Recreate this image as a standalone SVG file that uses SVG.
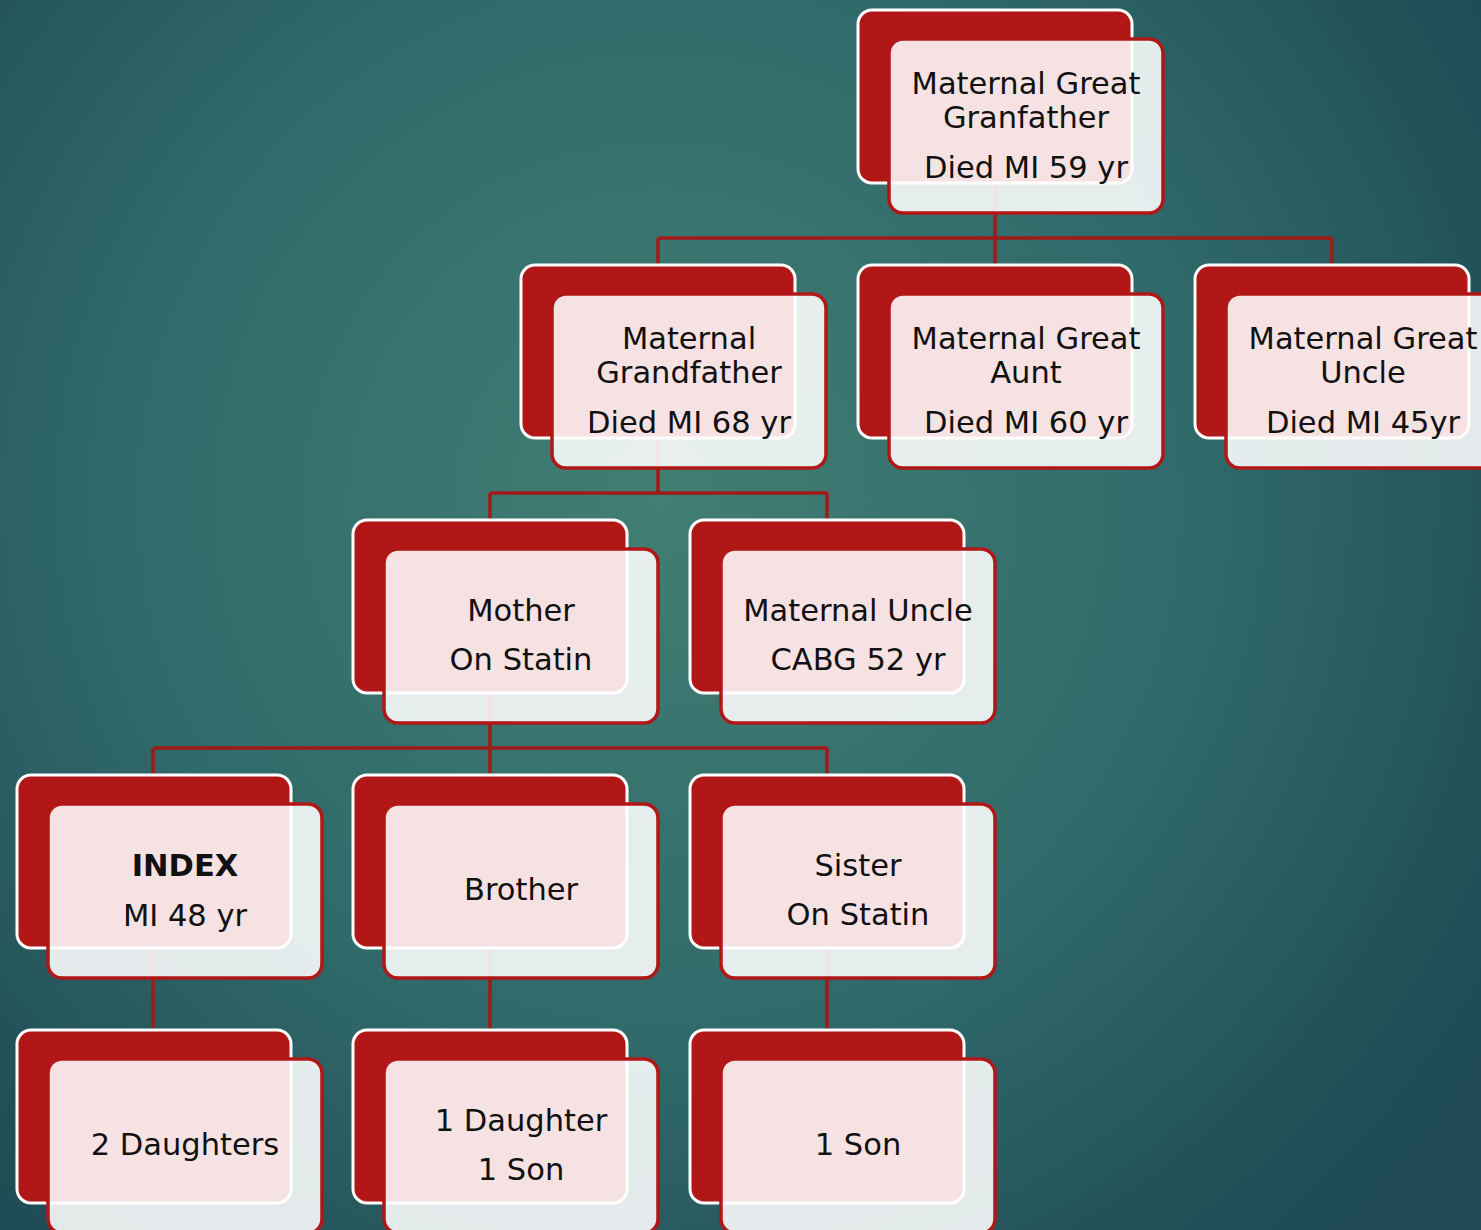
<svg xmlns="http://www.w3.org/2000/svg" width="1481" height="1230" viewBox="0 0 1481 1230">
<defs>
<radialGradient id="bg" cx="660" cy="500" r="1000" gradientUnits="userSpaceOnUse">
<stop offset="0" stop-color="#417E73"/>
<stop offset="0.55" stop-color="#30696A"/>
<stop offset="0.9" stop-color="#214F57"/>
<stop offset="1" stop-color="#1F4A55"/>
</radialGradient>
<style>
.back{fill:#B01716;stroke:#FFFFFF;stroke-width:3}
.front{fill:#FFFFFF;fill-opacity:0.88;stroke:#B01716;stroke-width:3.5}
.t{font-family:"DejaVu Sans","Liberation Sans",sans-serif;font-size:30.5px;fill:#111111;text-anchor:middle}
.b{font-weight:bold}
.conn{fill:none;stroke:#A11A1A;stroke-width:3.5}
</style>
</defs>
<rect x="0" y="0" width="1481" height="1230" fill="url(#bg)"/>
<g id="connectors" class="conn">
<path d="M995 183V238M658 238H1332M658 238V265M995 238V265M1332 238V265"/>
<path d="M658 438V493M490 493H827M490 493V520M827 493V520"/>
<path d="M490 693V748M153 748H827M153 748V775M490 748V775M827 748V775"/>
<path d="M153 948V1030M490 948V1030M827 948V1030"/>
</g>
<g id="n-mgg" transform="translate(858,10)">
<rect class="back" x="0" y="0" width="274" height="173" rx="14"/>
<rect class="front" x="31" y="29" width="274" height="174" rx="14"/>
<text class="t" x="168" y="84">Maternal Great</text>
<text class="t" x="168" y="118">Granfather</text>
<text class="t" x="168" y="168">Died MI 59 yr</text>
</g>
<g id="n-mgf" transform="translate(521,265)">
<rect class="back" x="0" y="0" width="274" height="173" rx="14"/>
<rect class="front" x="31" y="29" width="274" height="174" rx="14"/>
<text class="t" x="168" y="84">Maternal</text>
<text class="t" x="168" y="118">Grandfather</text>
<text class="t" x="168" y="168">Died MI 68 yr</text>
</g>
<g id="n-mga" transform="translate(858,265)">
<rect class="back" x="0" y="0" width="274" height="173" rx="14"/>
<rect class="front" x="31" y="29" width="274" height="174" rx="14"/>
<text class="t" x="168" y="84">Maternal Great</text>
<text class="t" x="168" y="118">Aunt</text>
<text class="t" x="168" y="168">Died MI 60 yr</text>
</g>
<g id="n-mgu" transform="translate(1195,265)">
<rect class="back" x="0" y="0" width="274" height="173" rx="14"/>
<rect class="front" x="31" y="29" width="274" height="174" rx="14"/>
<text class="t" x="168" y="84">Maternal Great</text>
<text class="t" x="168" y="118">Uncle</text>
<text class="t" x="168" y="168">Died MI 45yr</text>
</g>
<g id="n-mother" transform="translate(353,520)">
<rect class="back" x="0" y="0" width="274" height="173" rx="14"/>
<rect class="front" x="31" y="29" width="274" height="174" rx="14"/>
<text class="t" x="168" y="101">Mother</text>
<text class="t" x="168" y="150">On Statin</text>
</g>
<g id="n-muncle" transform="translate(690,520)">
<rect class="back" x="0" y="0" width="274" height="173" rx="14"/>
<rect class="front" x="31" y="29" width="274" height="174" rx="14"/>
<text class="t" x="168" y="101">Maternal Uncle</text>
<text class="t" x="168" y="150">CABG 52 yr</text>
</g>
<g id="n-index" transform="translate(17,775)">
<rect class="back" x="0" y="0" width="274" height="173" rx="14"/>
<rect class="front" x="31" y="29" width="274" height="174" rx="14"/>
<text class="t b" x="168" y="101">INDEX</text>
<text class="t" x="168" y="151">MI 48 yr</text>
</g>
<g id="n-brother" transform="translate(353,775)">
<rect class="back" x="0" y="0" width="274" height="173" rx="14"/>
<rect class="front" x="31" y="29" width="274" height="174" rx="14"/>
<text class="t" x="168" y="125">Brother</text>
</g>
<g id="n-sister" transform="translate(690,775)">
<rect class="back" x="0" y="0" width="274" height="173" rx="14"/>
<rect class="front" x="31" y="29" width="274" height="174" rx="14"/>
<text class="t" x="168" y="101">Sister</text>
<text class="t" x="168" y="150">On Statin</text>
</g>
<g id="n-daughters" transform="translate(17,1030)">
<rect class="back" x="0" y="0" width="274" height="173" rx="14"/>
<rect class="front" x="31" y="29" width="274" height="174" rx="14"/>
<text class="t" x="168" y="125">2 Daughters</text>
</g>
<g id="n-bchildren" transform="translate(353,1030)">
<rect class="back" x="0" y="0" width="274" height="173" rx="14"/>
<rect class="front" x="31" y="29" width="274" height="174" rx="14"/>
<text class="t" x="168" y="101">1 Daughter</text>
<text class="t" x="168" y="150">1 Son</text>
</g>
<g id="n-sson" transform="translate(690,1030)">
<rect class="back" x="0" y="0" width="274" height="173" rx="14"/>
<rect class="front" x="31" y="29" width="274" height="174" rx="14"/>
<text class="t" x="168" y="125">1 Son</text>
</g>
</svg>
